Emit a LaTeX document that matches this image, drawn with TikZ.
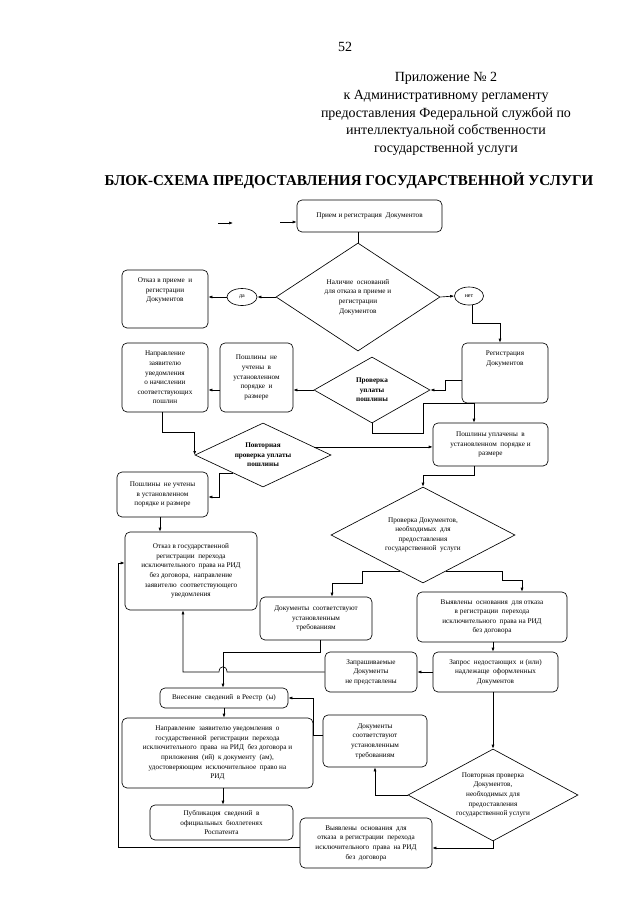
\documentclass[tikz,border=0pt]{standalone}
\usepackage{fontspec}
\setmainfont{Liberation Serif}
\usetikzlibrary{shapes.geometric,arrows.meta,calc}
\newcommand\dfont{\fontsize{7.2}{9.6}\selectfont}
\tikzset{
  box/.style={draw, line width=0.65pt, rounded corners=5pt, align=center, font=\dfont, inner sep=1pt},
  tbox/.style={align=center, font=\dfont, inner sep=0pt, anchor=north},
  dia/.style={draw, line width=0.65pt, diamond, aspect=2, inner sep=0pt, align=center, font=\dfont},
  oval/.style={draw, line width=0.65pt, ellipse, inner sep=0pt, font=\fontsize{6}{7}\selectfont},
  arr/.style={-{Latex[length=4pt,width=3pt]}, line width=0.65pt},
  ln/.style={line width=0.65pt}
}
\begin{document}
\begin{tikzpicture}[x=1pt,y=-1pt]
\fill[white] (0,0) rectangle (640,905);
\useasboundingbox (0,0) rectangle (640,905);

% header
\node[font=\fontsize{14}{16}\selectfont] (pg) at (345,47) {52};
\node[align=center, font=\fontsize{14}{17.8}\selectfont] (hdr) at (446,114) {Приложение № 2\\к Административному регламенту\\предоставления Федеральной службой по\\интеллектуальной собственности\\государственной услуги};
\node[font=\fontsize{15}{18}\selectfont\bfseries] (ttl) at (349,181) {БЛОК-СХЕМА ПРЕДОСТАВЛЕНИЯ ГОСУДАРСТВЕННОЙ УСЛУГИ};

% nodes
\node[box, minimum width=145pt, minimum height=32pt] (b1) at (369.5,216) {Прием и регистрация\ \ Документов};
\node[dia, minimum width=164pt, minimum height=108pt] (d1) at (358,297) {Наличие\ \ оснований\\для отказа в приеме и\\регистрации\\Документов};
\node[oval, minimum width=30pt, minimum height=17pt] (yes) at (242,297) {да};
\node[oval, minimum width=29pt, minimum height=18pt] (no) at (469,296) {нет};
\node[box, minimum width=86pt, minimum height=58pt] (b2) at (165,299) {};
\node[tbox] (b2t) at ([yshift=-8pt]b2.north) {Отказ в приеме\ \ и\\регистрации\\Документов};
\node[box, minimum width=86pt, minimum height=60pt] (b3) at (505,373) {};
\node[tbox] (b3t) at ([yshift=-8pt]b3.north) {Регистрация\\Документов};
\node[box, minimum width=86pt, minimum height=69pt] (b4) at (165,377.5) {Направление\\заявителю\\уведомления\\о начислении\\соответствующих\\пошлин};
\node[box, minimum width=73pt, minimum height=69pt] (b5) at (256.5,377.5) {Пошлины\ \ не\\учтены\ \ в\\установленном\\порядке\ \ и\\размере};
\node[dia, minimum width=116pt, minimum height=66pt, font=\dfont\bfseries] (d2) at (372,390) {Проверка\\уплаты\\пошлины};
\node[dia, minimum width=136pt, minimum height=64pt, font=\dfont\bfseries] (d3) at (263,455) {Повторная\\проверка уплаты\\пошлины};
\node[box, minimum width=115pt, minimum height=43pt] (b6) at (490.5,444.5) {Пошлины уплачены\ \ в\\установленном\ \ порядке и\\размере};
\node[box, minimum width=91pt, minimum height=45pt] (b7) at (162.5,494.5) {Пошлины\ \ не учтены\\в установленном\\порядке и размере};
\node[dia, minimum width=184pt, minimum height=96pt] (d4) at (423,535) {Проверка Документов,\\необходимых\ \ для\\предоставления\\государственной\ \ услуги};
\node[box, minimum width=132pt, minimum height=78pt] (b8) at (191,571) {Отказ в государственной\\регистрации\ \ перехода\\исключительного\ \ права на РИД\\без договора,\ \ направление\\заявителю\ \ соответствующего\\уведомления};
\node[box, minimum width=112pt, minimum height=43pt] (b9) at (316,618.5) {Документы\ \ соответствуют\\установленным\\требованиям};
\node[box, minimum width=150pt, minimum height=50pt] (b10) at (492,617) {Выявлены\ \ основания\ \ для отказа\\в регистрации\ \ перехода\\исключительного\ \ права на РИД\\без договора};
\node[box, minimum width=92pt, minimum height=40pt] (b11) at (371,672) {Запрашиваемые\\Документы\\не представлены};
\node[box, minimum width=125pt, minimum height=40pt] (b12) at (495.5,672) {Запрос\ \ недостающих\ \ и (или)\\надлежаще\ \ оформленных\\Документов};
\node[box, minimum width=128pt, minimum height=20pt] (b13) at (224,698) {Внесение\ \ сведений\ \ в Реестр\ \ (ы)};
\node[box, minimum width=191pt, minimum height=70pt] (b14) at (217.5,753) {Направление\ \ заявителю уведомления\ \ о\\государственной\ \ регистрации\ \ перехода\\исключительного\ \ права\ \ на РИД\ \ без договора и\\приложения\ \ (ий)\ \ к документу\ \ (ам),\\удостоверяющим\ \ исключительное\ \ право на\\РИД};
\node[box, minimum width=104pt, minimum height=52pt] (b15) at (375,741) {Документы\\соответствуют\\установленным\\требованиям};
\node[dia, minimum width=170pt, minimum height=92pt] (d5) at (493,795) {Повторная проверка\\Документов,\\необходимых для\\предоставления\\государственной услуги};
\node[box, minimum width=143pt, minimum height=35pt] (b16) at (221.5,822.5) {Публикация\ \ сведений\ \ в\\официальных\ \ бюллетенях\\Роспатента};
\node[box, minimum width=132pt, minimum height=50pt] (b17) at (366,843) {Выявлены\ \ основания\ \ для\\отказа\ \ в регистрации\ \ перехода\\исключительного\ \ права\ \ на РИД\\без\ \ договора};

% helper coordinates
\coordinate (s1) at (218,223);
\coordinate (s2) at (233,223);
\coordinate (s3) at (280,222);
\coordinate (c1) at (500,323);
\coordinate (c2) at (445,380);
\coordinate (c3) at (162,432);
\coordinate (c4) at (423,433);
\coordinate (c5) at (474,403);
\coordinate (c6) at ($(d3.east)!0.25!(d3.north)$);
\coordinate (c7) at ($(d3.west)!0.56!(d3.south)$);
\coordinate (c8) at (219,497);
\coordinate (c9) at (160,0);
\coordinate (c10) at (474,475);
\coordinate (c11) at ($(d4.west)!0.75!(d4.south)$);
\coordinate (c12) at (362,583);
\coordinate (c13) at (332,0);
\coordinate (c14) at ($(d4.east)!0.75!(d4.south)$);
\coordinate (c15) at (502,580);
\coordinate (c16) at (522,0);
\coordinate (c17) at (320,652);
\coordinate (c18) at (223,0);
\coordinate (h1) at (227,672);
\coordinate (h2) at (219,672);
\coordinate (hc1) at (227,665);
\coordinate (hc2) at (219,665);
\coordinate (c19) at (183,672);
\coordinate (c20) at (493,0);
\coordinate (c22) at (313,735);
\coordinate (c23) at (493,848);
\coordinate (c24) at (118,847);
\coordinate (c25) at (118,563);

% connectors
\draw[arr] (s1) -- (s2);
\draw[arr] (s3) -- (s3 -| b1.west);
\draw[ln] (b1.south -| d1.north) -- (d1.north);
\draw[arr] (d1.west) -- (yes.east);
\draw[arr] (yes.west) -- (yes.west -| b2.east);
\draw[arr] (d1.east) -- (no.west);
\draw[arr] (no.290) |- (c1) -- (c1 |- b3.north);
\draw[arr] (c2 -| b3.west) -- (c2) |- (d2.east);
\draw[arr] (d2.west) -- (d2.west -| b5.east);
\draw[arr] (d2.west -| b5.west) -- (d2.west -| b4.east);
\draw[arr] (c3 |- b4.south) -- (c3) -| (d3.west);
\draw[arr] (d2.south) |- (c4) |- (c5) -- (c5 |- b6.north);
\draw[arr] (c6) -- (c6 -| b6.west);
\draw[arr] (c7) -| (c8) -- (c8 -| b7.east);
\draw[arr] (c9 |- b7.south) -- (c9 |- b8.north);
\draw[arr] (c10 |- b6.south) -- (c10) -| (d4.north);
\draw[arr] (c11) -| (c12) -| (c13 |- b9.north);
\draw[arr] (c14) -| (c15) -| (c16 |- b10.north);
\draw[arr] (c17 |- b9.south) -- (c17) -| (c18 |- b13.north);
\draw[arr] (b11.west) -- (h1) .. controls (hc1) and (hc2) .. (h2) -- (c19) -- (c19 |- b8.south);
\draw[arr] (c20 |- b10.south) -- (c20 |- b12.north);
\draw[arr] (b12.west) -- (b11.east);
\draw[arr] (c20 |- b12.south) -- (d5.north);
\draw[arr] (d5.west) -| (b15.south);
\draw[arr] (c22 -| b15.west) -- (c22) |- (b13.east);
\draw[arr] (b13.south) -- (b13.south |- b14.north);
\draw[arr] (c18 |- b14.south) -- (c18 |- b16.north);
\draw[arr] (d5.south) -- (c23) -- (c23 -| b17.east);
\draw[arr] (c24 -| b17.west) -- (c24) -- (c25) -- (c25 -| b8.west);
\end{tikzpicture}
\end{document}
